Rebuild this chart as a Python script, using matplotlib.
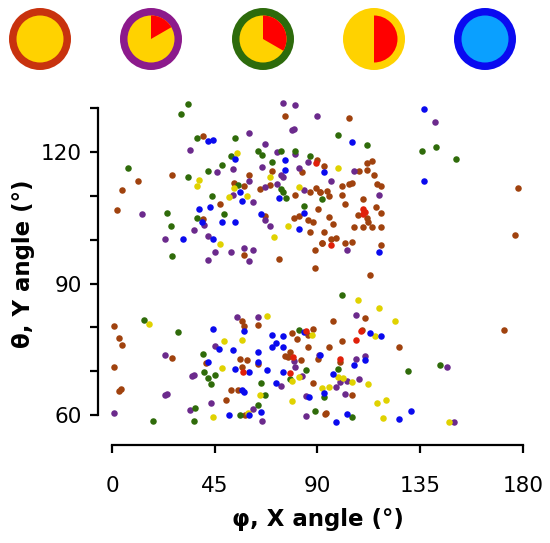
import matplotlib
matplotlib.use("Agg")
import matplotlib.pyplot as plt
from matplotlib.patches import Circle, Wedge

# ---------------- data ----------------
brown_x = [75.9, 103.9, 40.0, 11.3, 26.1, 4.2, 2.2, 47.2, 40.0, 60.1, 64.8, 69.2, 70.1, 67.0, 58.0, 73.0,
           83.2, 89.9, 86.7, 89.4, 80.0, 82.0, 79.7, 86.0, 87.9, 86.9, 88.9, 89.0, 92.9, 108.1, 111.8,
           113.9, 111.8, 114.9, 100.9, 103.9, 105.0, 115.9, 117.8, 90.9, 94.0, 95.0, 100.9, 109.9, 90.1,
           101.9, 107.9, 111.6, 112.3, 115.8, 117.8, 96.9, 94.9, 106.0, 109.9, 113.9, 117.8, 93.0, 92.0,
           101.9, 105.0, 117.8, 177.7, 176.7, 113.0, 53.6, 57.7, 95.9, 98.0, 92.0, 90.9,
           1.0, 3.1, 4.2, 1.0, 3.8, 3.1, 26.1, 41.2, 50.1, 52.0, 55.1, 58.1, 57.1, 58.0, 56.1, 59.1, 57.1,
           63.9, 64.1, 79.0, 81.0, 86.0, 88.0, 86.0, 78.0, 75.9, 76.9, 82.9, 87.9, 111.0, 96.9, 109.6,
           100.9, 94.9, 125.8, 171.8, 90.1, 99.9, 105.0, 93.3, 93.7]
brown_y = [128.2, 127.8, 123.6, 113.5, 114.8, 111.3, 106.8, 108.1, 104.7, 114.8, 111.5, 112.5, 115.6, 105.4, 96.5, 95.6,
           115.5, 118.2, 110.8, 111.9, 110.1, 105.4, 104.9, 104.4, 104.0, 101.7, 97.6, 93.5, 116.8, 115.6, 117.4,
           117.9, 116.0, 114.8, 112.2, 112.7, 113.0, 112.8, 112.2, 110.8, 111.2, 110.0, 110.3, 109.3, 106.9,
           108.1, 105.6, 104.9, 104.1, 107.4, 106.0, 103.6, 105.2, 103.0, 103.0, 103.0, 103.0, 101.7, 99.2,
           99.2, 99.5, 98.8, 111.9, 101.0, 91.9, 112.9, 112.2, 100.2, 100.4, 99.2, 110.8,
           80.3, 77.5, 75.9, 71.0, 65.9, 65.5, 72.9, 71.9, 63.4, 65.7, 65.7, 60.1, 81.5, 80.4, 72.8, 72.5, 70.9,
           80.6, 71.6, 78.8, 77.3, 78.2, 79.7, 75.6, 74.4, 73.5, 73.2, 72.5, 67.3, 82.2, 81.4, 79.4,
           76.8, 75.6, 75.4, 79.3, 72.7, 72.2, 64.6, 60.2, 60.5]

red_x = [89.4, 110.1, 110.8, 110.1, 96.0, 57.2, 85.1, 79.4, 78.0, 108.9, 106.9, 99.9]
red_y = [117.6, 107.1, 106.4, 105.9, 98.8, 69.8, 79.2, 73.2, 69.5, 79.2, 77.0, 72.7]

purple_x = [74.9, 80.2, 89.9, 79.6, 78.8, 60.1, 34.0, 66.9, 72.1, 80.0, 13.1, 23.1, 46.0, 53.1, 40.2, 36.1,
            42.0, 45.1, 52.3, 42.0, 60.1, 53.1, 61.9, 67.0, 65.8, 73.9, 75.0, 72.1, 67.2, 69.2, 58.0, 60.1,
            61.9, 81.9, 86.0, 84.2, 141.7, 106.0, 95.9, 116.9, 103.1,
            1.0, 23.1, 23.4, 24.0, 35.0, 35.9, 34.0, 45.0, 43.2, 54.9, 63.9, 61.9, 65.8, 74.0, 79.9, 80.0,
            83.1, 85.0, 85.0, 90.5, 106.9, 106.9, 111.0, 100.0, 102.9, 108.1, 98.0, 102.1, 146.9, 149.8]
purple_y = [131.1, 130.7, 128.3, 125.3, 125.0, 124.3, 120.4, 121.8, 119.9, 119.5, 105.9, 100.2, 115.4, 116.2, 103.4, 102.3,
            100.8, 97.3, 97.3, 95.4, 113.5, 110.1, 108.6, 112.0, 116.5, 114.8, 114.2, 112.8, 104.6, 103.1, 98.2, 95.2,
            97.6, 116.4, 117.7, 111.3, 126.8, 115.7, 113.3, 110.1, 97.6,
            60.4, 73.6, 64.6, 64.9, 68.9, 69.2, 61.1, 75.8, 62.7, 82.4, 82.3, 61.3, 58.7, 66.6, 72.4, 71.0,
            68.9, 64.4, 59.8, 73.6, 82.8, 72.7, 73.5, 67.6, 67.8, 68.2, 66.5, 64.9, 71.0, 58.4]

green_x = [33.1, 30.1, 37.1, 54.0, 63.9, 65.8, 74.0, 80.0, 86.9, 52.0, 7.1, 33.1, 24.0, 26.0, 26.1, 42.0,
           48.0, 43.8, 49.2, 37.1, 55.2, 70.0, 74.0, 76.1, 84.0, 99.0, 111.8, 135.8, 141.8, 150.8, 92.0, 74.8,
           14.1, 18.1, 29.0, 36.2, 36.1, 40.0, 40.2, 42.0, 43.2, 45.1, 55.9, 65.1, 67.0, 64.1, 82.0, 85.1,
           78.0, 89.0, 100.9, 99.0, 92.9, 105.0, 143.8, 129.8]
green_y = [131.0, 128.7, 123.1, 123.2, 120.3, 119.3, 120.2, 120.3, 119.1, 119.2, 116.3, 114.2, 106.2, 103.1, 96.3, 115.6,
           117.1, 110.0, 105.9, 104.9, 112.5, 117.8, 111.5, 109.4, 107.7, 124.0, 121.5, 120.2, 121.1, 118.3, 109.2, 110.8,
           81.6, 58.7, 78.9, 61.7, 58.7, 73.9, 69.7, 68.4, 67.1, 69.1, 59.9, 67.4, 64.6, 62.3, 79.4, 70.3,
           68.3, 60.8, 87.4, 70.5, 64.2, 59.5, 71.3, 70.0]

yellow_x = [54.6, 38.1, 37.1, 47.2, 53.4, 51.1, 59.0, 69.1, 71.1, 77.0, 82.0, 99.0,
            16.2, 49.1, 44.1, 48.2, 56.9, 67.9, 65.0, 59.4, 87.7, 79.0, 82.0, 79.0, 107.9, 116.9, 124.0,
            115.1, 99.0, 101.0, 105.1, 95.0, 92.0, 112.0, 115.9, 119.9, 118.8, 147.7]
yellow_y = [119.8, 113.6, 112.2, 99.0, 111.7, 109.8, 110.0, 114.2, 100.5, 103.1, 112.1, 116.4,
            80.8, 76.9, 59.6, 70.8, 77.2, 82.7, 64.6, 60.5, 78.2, 67.7, 68.7, 63.1, 86.2, 84.3, 81.5,
            78.0, 68.7, 68.5, 67.6, 66.5, 66.1, 67.1, 62.7, 63.4, 59.2, 58.5]

blue_x = [42.0, 44.2, 54.0, 31.1, 38.1, 43.1, 39.3, 48.2, 54.0, 44.1, 56.0, 57.1, 75.9, 75.9, 73.0, 65.1,
          84.0, 82.0, 136.8, 105.0, 136.8, 92.9, 116.9,
          42.2, 44.1, 47.0, 51.1, 53.1, 54.0, 57.1, 57.7, 60.0, 58.0, 60.0, 63.9, 64.1, 67.9, 65.1, 70.0,
          72.0, 70.1, 74.9, 75.0, 72.0, 74.9, 84.1, 86.2, 112.9, 117.8, 91.1, 111.0, 105.9, 96.9, 92.9,
          102.9, 98.0, 125.8, 131.0]
blue_y = [122.6, 122.7, 118.5, 100.2, 107.0, 107.5, 104.0, 104.0, 104.0, 100.1, 110.9, 108.8, 118.1, 115.8, 109.6, 105.9,
          106.2, 102.4, 129.9, 122.4, 113.4, 115.4, 97.3,
          72.2, 79.7, 75.0, 59.9, 74.8, 70.6, 65.7, 65.2, 59.9, 79.2, 69.9, 74.4, 72.1, 70.3, 60.6, 78.2,
          76.5, 75.4, 78.0, 75.4, 67.4, 69.7, 78.9, 64.1, 78.7, 78.0, 73.8, 72.5, 71.3, 69.4, 65.1,
          60.2, 58.3, 59.1, 60.9]

x_ticks = [0, 45, 90, 135, 180]
x_tick_labels = ["0", "45", "90", "135", "180"]
y_ticks = [60, 70, 80, 90, 100, 110, 120, 130]
y_tick_labels = ["60", "", "", "90", "", "", "120", ""]

# icons: ring colour, fill colour, wedge start/end angle (deg), wedge colour
icon_ring = ["#c8320e", "#8c1a8c", "#2d6b0c", "#ffd200", "#0a0af0"]
icon_fill = ["#ffd200", "#ffd200", "#ffd200", "#ffd200", "#0aa0ff"]
icon_wedge = [None, (30, 90), (-30, 90), (-90, 90), None]

series = [
    (brown_x, brown_y, "#a0420e"),
    (purple_x, purple_y, "#6b2a8c"),
    (green_x, green_y, "#2f6b0a"),
    (yellow_x, yellow_y, "#e0d200"),
    (blue_x, blue_y, "#0a0aee"),
    (red_x, red_y, "#e0200a"),
]

# ---------------- figure ----------------
W, H = 550, 543
fig = plt.figure(figsize=(W / 100, H / 100), dpi=100)

ax = fig.add_axes([0.1912, 0.2075, 0.772, 0.6134])
for xs, ys, c in series:
    ax.scatter(xs, ys, s=22, color=c, linewidths=0, zorder=3)

ax.set_xlim(-3, 183)
ax.set_ylim(56.5, 132.5)
for s in ["top", "right"]:
    ax.spines[s].set_visible(False)
ax.spines["left"].set_position(("outward", 5))
ax.spines["bottom"].set_position(("outward", 10.6))
ax.spines["left"].set_bounds(60, 130)
ax.spines["bottom"].set_bounds(0, 180)
for s in ["left", "bottom"]:
    ax.spines[s].set_linewidth(1.6)

ax.set_xticks(x_ticks)
ax.set_xticklabels(x_tick_labels)
ax.set_yticks(y_ticks)
ax.set_yticklabels(y_tick_labels)
ax.tick_params(axis="both", direction="out", length=6, width=1.6, labelsize=15.5, colors="black")
ax.tick_params(axis="x", pad=16)
ax.tick_params(axis="y", pad=6)

ax.set_xlabel("φ, X angle (°)", fontsize=16.5, fontweight="bold", labelpad=9)
ax.set_ylabel("θ, Y angle (°)", fontsize=16.5, fontweight="bold", labelpad=4)

# ---------------- icons ----------------
iax = fig.add_axes([0, 1 - 80 / H, 1, 80 / H])
iax.set_xlim(0, W)
iax.set_ylim(0, 80)
iax.axis("off")
centers = [40, 151, 263, 374, 485]
for cx, ring, fill, wd in zip(centers, icon_ring, icon_fill, icon_wedge):
    iax.add_patch(Circle((cx, 41), 31, color=ring, lw=0))
    iax.add_patch(Circle((cx, 41), 23.5, color=fill, lw=0))
    if wd is not None:
        iax.add_patch(Wedge((cx, 41), 23.5, wd[0], wd[1], color="#ff0000", lw=0))

fig.savefig("out.png", dpi=100)
